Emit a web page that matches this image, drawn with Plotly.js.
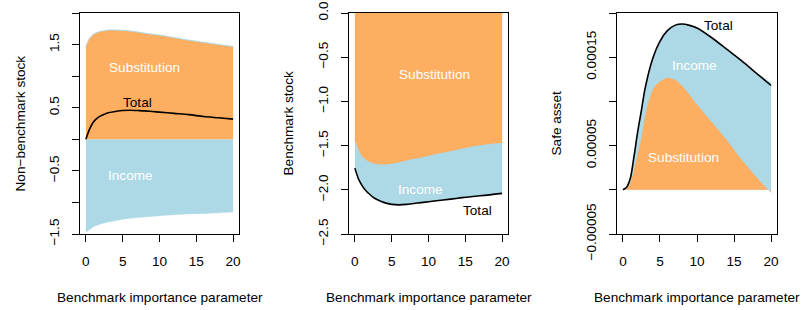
<!DOCTYPE html>
<html>
<head>
<meta charset="utf-8">
<script src="https://cdn.plot.ly/plotly-3.0.1.min.js"></script>
<style>html,body{margin:0;padding:0;background:#fff;}#plot{width:807px;height:310px;}</style>
</head>
<body>
<div id="plot"></div>
<script>
// Benchmark importance parameter (x values)
const lambda = [0, 0.5, 1, 1.5, 2, 2.5, 3, 4, 5, 6, 7, 8, 9, 10, 12, 14, 16, 18, 20];

// Panel 1: Non-benchmark stock
const nbSubst  = [1.47, 1.60, 1.66, 1.69, 1.71, 1.72, 1.73, 1.73, 1.725, 1.715, 1.70, 1.68, 1.665, 1.65, 1.61, 1.57, 1.535, 1.50, 1.47];
const nbIncome = [-1.47, -1.43, -1.385, -1.36, -1.34, -1.325, -1.31, -1.29, -1.265, -1.25, -1.24, -1.23, -1.22, -1.21, -1.195, -1.18, -1.175, -1.165, -1.15];
const nbTotal  = [0, 0.16, 0.27, 0.33, 0.37, 0.395, 0.42, 0.44, 0.455, 0.46, 0.455, 0.45, 0.44, 0.43, 0.41, 0.39, 0.36, 0.34, 0.32];

// Panel 2: Benchmark stock
const bSubst  = [-1.455, -1.56, -1.63, -1.665, -1.69, -1.705, -1.715, -1.72, -1.71, -1.695, -1.675, -1.655, -1.64, -1.62, -1.585, -1.55, -1.515, -1.49, -1.475];
const bIncome = [-0.30, -0.32, -0.325, -0.345, -0.36, -0.38, -0.395, -0.425, -0.455, -0.475, -0.49, -0.50, -0.505, -0.515, -0.53, -0.545, -0.56, -0.57, -0.565];
const bTotal  = [-1.755, -1.88, -1.955, -2.01, -2.05, -2.085, -2.11, -2.145, -2.165, -2.17, -2.165, -2.155, -2.145, -2.135, -2.115, -2.095, -2.075, -2.06, -2.04];

// Panel 3: Safe asset
const sSubst  = [0, 0.2e-5, 0.9e-5, 2.5e-5, 4.3e-5, 6.2e-5, 8.6e-5, 11.4e-5, 12.3e-5, 12.7e-5, 12.5e-5, 11.8e-5, 10.8e-5, 9.7e-5, 7.7e-5, 5.7e-5, 3.5e-5, 1.5e-5, -0.3e-5];
const sIncome = [0, 0.1e-5, 0.4e-5, 1.3e-5, 2.3e-5, 2.8e-5, 2.9e-5, 3.4e-5, 4.5e-5, 5.3e-5, 6.1e-5, 6.95e-5, 7.8e-5, 8.6e-5, 9.5e-5, 10.2e-5, 11.1e-5, 11.7e-5, 12.1e-5];
const sTotal  = [0, 0.3e-5, 1.3e-5, 3.8e-5, 6.6e-5, 9.0e-5, 11.5e-5, 14.8e-5, 16.8e-5, 18.0e-5, 18.6e-5, 18.75e-5, 18.6e-5, 18.3e-5, 17.2e-5, 15.9e-5, 14.6e-5, 13.2e-5, 11.8e-5];

// Axis ticks and labels
const xTicks = [0, 5, 10, 15, 20];
const y1Ticks = [-1.5, -1, -0.5, 0, 0.5, 1, 1.5, 2];
const y1Text  = ['\u22121.5', '', '\u22120.5', '', '0.5', '', '1.5', ''];
const y2Ticks = [-2.5, -2, -1.5, -1, -0.5, 0];
const y2Text  = ['\u22122.5', '\u22122.0', '\u22121.5', '\u22121.0', '\u22120.5', '0.0'];
const y3Ticks = [-5e-5, 0, 5e-5, 10e-5, 15e-5, 20e-5];
const y3Text  = ['\u22120.00005', '', '0.00005', '', '0.00015', ''];
const yTitles = ['Non\u2212benchmark stock', 'Benchmark stock', 'Safe asset'];
const xTitle = 'Benchmark importance parameter';

const ORANGE = '#FDAE61';
const BLUE = '#ADD8E6';
const FONT = 'Liberation Sans, Arial, Helvetica, sans-serif';
const FS = 13.6;

// Stack like relative bars: income stacked on substitution if signs agree
function stackIncome(sub, inc) {
  return inc.map((v, i) => (Math.sign(v) === Math.sign(sub[i]) ? v + sub[i] : v));
}

const panels = [
  {sub: nbSubst, inc: nbIncome, tot: nbTotal, xa: 'x', ya: 'y'},
  {sub: bSubst, inc: bIncome, tot: bTotal, xa: 'x2', ya: 'y2'},
  {sub: sSubst, inc: sIncome, tot: sTotal, xa: 'x3', ya: 'y3'}
];

const traces = [];
panels.forEach(p => {
  traces.push({x: lambda, y: stackIncome(p.sub, p.inc), xaxis: p.xa, yaxis: p.ya, type: 'scatter', mode: 'lines',
    fill: 'tozeroy', fillcolor: BLUE, line: {color: BLUE, width: 0.5, shape: 'spline', smoothing: 0.8}, hoverinfo: 'skip'});
  traces.push({x: lambda, y: p.sub, xaxis: p.xa, yaxis: p.ya, type: 'scatter', mode: 'lines',
    fill: 'tozeroy', fillcolor: ORANGE, line: {color: BLUE, width: 1, shape: 'spline', smoothing: 0.8}, hoverinfo: 'skip'});
  traces.push({x: lambda, y: p.tot, xaxis: p.xa, yaxis: p.ya, type: 'scatter', mode: 'lines',
    line: {color: 'black', width: 1.6, shape: 'spline', smoothing: 0.8}, hoverinfo: 'skip'});
});

const W = 807, H = 310;
const boxes = [[80, 239], [349, 508], [617, 777]];
const yTop = 13, yBot = 234;
const yDom = [(H - yBot) / H, (H - yTop) / H];

function xAxis(i) {
  return {domain: [boxes[i][0] / W, boxes[i][1] / W], range: [-0.8, 20.8], tickvals: xTicks,
    ticktext: xTicks.map(String), ticks: 'outside', ticklen: 7, tickwidth: 1, tickcolor: '#000',
    showline: true, mirror: true, linecolor: '#000', linewidth: 1, showgrid: false, zeroline: false,
    ticklabelstandoff: 8, tickfont: {family: FONT, size: FS, color: '#000'}, anchor: i === 0 ? 'y' : 'y' + (i + 1), fixedrange: true};
}
function yAxis(i, range, vals, text) {
  return {domain: yDom, range: range, tickvals: vals, ticktext: text, tickangle: -90,
    ticks: 'outside', ticklen: 7, tickwidth: 1, tickcolor: '#000',
    showline: true, mirror: true, linecolor: '#000', linewidth: 1, showgrid: false, zeroline: false,
    ticklabelstandoff: 8, tickfont: {family: FONT, size: FS, color: '#000'}, anchor: i === 0 ? 'x' : 'x' + (i + 1), fixedrange: true};
}

const annotations = [];
// axis titles
[[20, 159.5], [288, 428.5], [556, 697]].forEach((pos, i) => {
  annotations.push({xref: 'paper', yref: 'paper', x: pos[0] / W, y: (H - (yTop + yBot) / 2) / H, text: yTitles[i],
    textangle: -90, showarrow: false, xanchor: 'center', yanchor: 'middle', font: {family: FONT, size: FS, color: '#000'}});
  annotations.push({xref: 'paper', yref: 'paper', x: pos[1] / W, y: (H - 297) / H, text: xTitle,
    showarrow: false, xanchor: 'center', yanchor: 'middle', font: {family: FONT, size: FS, color: '#000'}});
});
// in-plot labels
const labels = [
  ['x', 'y', 8.0, 1.13, 'Substitution', '#fff'],
  ['x', 'y', 6.1, -0.57, 'Income', '#fff'],
  ['x', 'y', 6.95, 0.58, 'Total', '#000'],
  ['x2', 'y2', 10.75, -0.69, 'Substitution', '#fff'],
  ['x2', 'y2', 8.9, -1.995, 'Income', '#fff'],
  ['x2', 'y2', 16.7, -2.236, 'Total', '#000'],
  ['x3', 'y3', 12.9, 18.6e-5, 'Total', '#000'],
  ['x3', 'y3', 9.6, 14.1e-5, 'Income', '#fff'],
  ['x3', 'y3', 8.24, 3.64e-5, 'Substitution', '#fff']
];
labels.forEach(l => annotations.push({xref: l[0], yref: l[1], x: l[2], y: l[3], text: l[4], showarrow: false,
  xanchor: 'center', yanchor: 'middle', font: {family: FONT, size: FS, color: l[5]}}));

const layout = {
  width: W, height: H, margin: {l: 0, r: 0, t: 0, b: 0}, showlegend: false,
  paper_bgcolor: '#fff', plot_bgcolor: '#fff', font: {family: FONT, size: FS, color: '#000'},
  xaxis: xAxis(0), xaxis2: xAxis(1), xaxis3: xAxis(2),
  yaxis: yAxis(0, [-1.5, 2], y1Ticks, y1Text),
  yaxis2: yAxis(1, [-2.5, 0], y2Ticks, y2Text),
  yaxis3: yAxis(2, [-5e-5, 20e-5], y3Ticks, y3Text),
  annotations: annotations
};

Plotly.newPlot('plot', traces, layout, {staticPlot: true, displayModeBar: false});
</script>
</body>
</html>
